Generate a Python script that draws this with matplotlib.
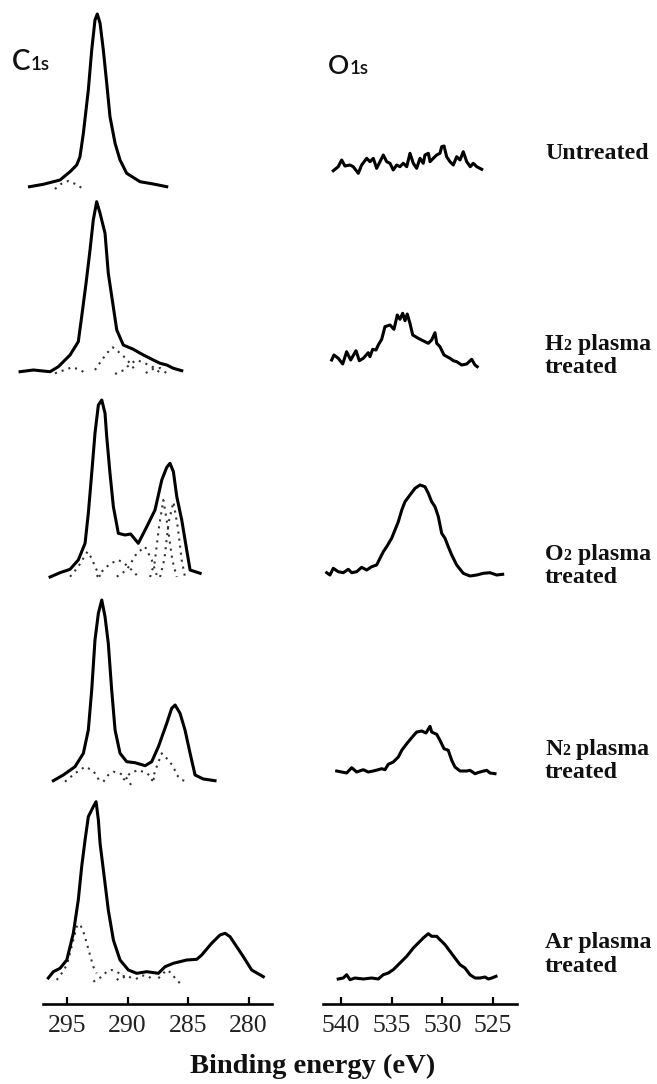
import matplotlib
matplotlib.use("Agg")
import matplotlib.pyplot as plt

# ---------------- data (binding energy in eV, intensity in a.u.) ----------------
# C1s spectra (solid) ------------------------------------------------------------
c1_E = [298.1, 296.96, 295.58, 294.75, 294.20, 293.93, 293.65, 293.43, 293.24, 292.96, 292.69,
        292.50, 292.27, 292.0, 291.72, 291.45, 291.03, 290.62, 290.07, 288.97, 287.87, 286.76]
c1_I = [0.3, 2.7, 7, 15.3, 22, 30.3, 53.7, 77, 97, 137, 167,
        173, 163.7, 137, 103.7, 70.3, 43.7, 27, 13.7, 5.3, 3, 0.3]

c2_E = [298.88, 297.79, 296.40, 295.72, 294.75, 294.07, 293.79, 293.43, 293.10, 292.83, 292.55,
        292.27, 291.86, 291.59, 291.22, 290.89, 290.35, 289.52, 288.69, 287.87, 287.31, 286.76,
        286.21, 285.52]
c2_I = [0.3, 2, 0.3, 5.3, 17, 30.3, 55.3, 88.7, 122, 152, 170.3,
        158.7, 138.7, 98.7, 68.7, 42, 27, 22.7, 17, 12, 8.7, 7,
        3.7, 1.3]

c3_E = [296.40, 295.58, 294.75, 294.07, 293.51, 293.24, 292.96, 292.69, 292.41, 292.13, 291.86,
        291.72, 291.45, 291.17, 290.76, 290.21, 289.74, 289.11, 288.41, 287.73, 287.17, 286.76,
        286.49, 286.21, 285.93, 285.52, 285.11, 284.83, 284.0]
c3_I = [0, 4.3, 7.7, 17, 33.7, 63.7, 103.7, 143.7, 172, 177, 163.7,
        140.3, 103.7, 70.3, 43.7, 42, 43, 33.7, 50.3, 67, 97, 109.7,
        113.7, 105.3, 80.3, 57, 27, 7, 3.7]

c4_E = [296.13, 295.31, 294.34, 293.65, 293.24, 292.96, 292.69, 292.41, 292.13, 291.86, 291.59,
        291.31, 291.03, 290.62, 290.07, 289.38, 288.55, 288.0, 287.45, 286.76, 286.35, 286.07,
        285.66, 285.25, 284.83, 284.42, 283.74, 282.77]
c4_I = [0.3, 6, 14.3, 27.7, 51, 91, 141, 167.7, 181, 164.3, 137.7,
        91, 51, 27.7, 19.3, 18.3, 15.3, 19.3, 34.3, 57.7, 72.7, 76,
        67.7, 51, 27.7, 6, 2, 0.3]

c5_E = [296.55, 296.13, 295.58, 295.02, 294.48, 294.07, 293.79, 293.51, 293.24, 292.83, 292.60,
        292.41, 292.27, 291.86, 291.59, 291.17, 290.62, 289.93, 289.24, 288.41, 287.45, 286.90,
        286.21, 285.11, 284.28, 283.87, 283.05, 282.36, 281.94, 281.53, 280.98, 280.43, 279.74,
        278.78]
c5_I = [0, 6.3, 9.7, 18, 44.7, 78, 111.3, 138, 161.3, 171.3, 176.3,
        158, 134.7, 94.7, 68, 38, 18, 8, 4.7, 6.3, 4.7, 11.3,
        14.7, 18, 18.7, 23, 34.7, 43, 44.7, 41.3, 31.3, 21.3, 8,
        1.3]

# C1s fitted components (dotted) -------------------------------------------------
c1_comp = [([296.0, 295.5, 294.9, 294.3, 293.65], [-2, 3, 6, 3, -2])]
c2_comp = [([296.0, 295.2, 294.6, 294.1, 293.5], [-1.3, 2, 4.7, 3, -0.7]),
           ([292.69, 292.41, 291.72, 291.22, 290.76, 290.29, 289.79, 289.38],
            [2, 7, 18.7, 24.7, 20.3, 15.3, 8.7, 2]),
           ([291.03, 290.29, 289.79, 289.24, 288.55, 287.87, 287.31],
            [-2, 2, 8, 12, 8.7, 4.7, -0.7]),
           ([288.5, 287.9, 287.3, 286.8], [-1, 3, 4, -1])]
c3_comp = [([294.75, 294.07, 293.65, 293.32, 292.96, 292.69, 292.27],
            [0.3, 10.3, 18.7, 25.3, 18.7, 10.3, 0.3]),
           ([292.55, 291.72, 291.26, 290.76, 290.35, 289.93, 289.11],
            [0.3, 10.3, 14.3, 17, 14.3, 10.3, 0.3]),
           ([290.89, 290.07, 289.24, 288.55, 288.0, 287.59],
            [0.3, 7, 23.7, 30.3, 17, 2]),
           ([288.14, 287.75, 287.4, 287.04, 286.7, 286.3, 285.93],
            [0, 15, 50, 77, 52, 17, 0]),
           ([287.31, 286.95, 286.6, 286.21, 285.85, 285.5, 285.25],
            [0, 18, 55, 75, 50, 15, 0])]
c4_comp = [([295.17, 294.34, 293.51, 292.96, 292.55, 292.27],
            [-0.7, 7.7, 14.3, 11, 6, -2.3]),
           ([292.0, 291.59, 291.17, 290.62, 290.07, 289.65],
            [-0.7, 6, 9.3, 7.7, 2.7, -5]),
           ([290.35, 289.79, 289.11, 288.41, 287.87, 287.59],
            [1, 7.7, 11, 7.7, 2.7, -2.3]),
           ([288.0, 287.6, 287.17, 286.63, 286.21, 285.93, 285.52, 284.98],
            [0, 14, 27.7, 21, 14.3, 6, 1, -0.7])]
c5_comp = [([295.85, 295.44, 295.02, 294.48, 294.20, 293.93, 293.65, 293.37, 293.10, 292.83, 292.55],
            [-2, 4.7, 13, 38, 51.3, 54, 46.3, 34.7, 23, 11.3, 4.7]),
           ([292.83, 292.13, 291.72, 291.31, 290.89, 290.48, 290.07],
            [-3.7, 1.3, 6.3, 8, 6.3, 3, -2]),
           ([290.9, 290.5, 290.1, 289.7], [-2, 1, 3, 0]),
           ([289.3, 288.8, 288.3, 287.8], [-1, 2.5, 2, -3]),
           ([287.45, 287.04, 286.76, 286.35, 286.07, 285.66],
            [-0.3, 4.7, 8, 4.7, -0.3, -5.3])]

# O1s spectra (solid) ------------------------------------------------------------
o1_E = [540.76, 540.27, 539.93, 539.61, 539.11, 538.79, 538.29, 537.96, 537.46, 537.14, 536.81,
        536.48, 536.15, 535.82, 535.49, 535.16, 534.84, 534.50, 534.18, 533.85, 533.51, 533.19,
        532.86, 532.53, 532.20, 531.88, 531.71, 531.38, 531.21, 530.89, 530.55, 530.23, 530.06,
        529.83, 529.57, 529.24, 528.91, 528.58, 528.25, 527.93, 527.59, 527.24, 526.94, 526.60,
        526.11]
o1_I = [1.3, 5.3, 12, 6, 7, 5.3, -1.3, 7, 13.7, 10.3, 13.7,
        3.7, 10.3, 17, 10.3, 8.7, 2, 7, 5.3, 8.7, 5.3, 18.7,
        8.7, 3.7, 13.7, 8.7, 17, 18.7, 10.3, 13.7, 17, 18.7, 25.3,
        26, 15.3, 10.3, 7, 15.3, 12, 20.3, 10.3, 5.3, 8.7, 5.3,
        2.7]

o2_E = [540.92, 540.69, 540.27, 539.83, 539.44, 539.04, 538.52, 538.19, 537.80, 537.31, 537.14,
        536.87, 536.54, 536.32, 535.98, 535.66, 535.16, 534.77, 534.44, 534.18, 533.91, 533.68,
        533.46, 533.19, 532.92, 532.37, 531.71, 531.38, 531.05, 530.72, 530.55, 530.23, 529.83,
        529.24, 528.91, 528.58, 528.08, 527.59, 527.10, 526.77, 526.55]
o2_I = [7, 12, 8.7, 3, 15.3, 7, 16.3, 6.3, 8.7, 14.3, 10.3,
        17.7, 17, 22, 27.7, 40.3, 42, 37.7, 52, 47.7, 53.7, 46.3,
        53, 43.7, 32, 28.7, 25.3, 23.7, 27, 34.3, 23.7, 20.3, 12,
        8.7, 6.3, 5.3, 2, 3, 7.7, 2, 0.3]

o3_E = [541.41, 541.09, 540.76, 540.27, 539.77, 539.28, 538.94, 538.45, 537.96, 537.46, 536.97,
        536.48, 536.15, 535.82, 535.49, 535.0, 534.67, 534.34, 534.0, 533.68, 533.19, 532.69,
        532.20, 531.71, 531.38, 531.05, 530.72, 530.39, 530.06, 529.73, 529.41, 529.07, 528.58,
        527.93, 527.27, 526.60, 525.95, 525.29, 524.63, 524.04]
o3_I = [2.3, 0, 6.7, 3.3, 2.3, 5.7, 2.3, 3.3, 7.7, 5, 8.3,
        10, 16.7, 23.3, 28.3, 36.7, 45, 53.3, 65, 73.3, 80, 86.7,
        90, 88.3, 81.7, 73.3, 68.3, 58.3, 41.7, 36.7, 28.3, 20, 10,
        1.7, -1, 0, 1.7, 2.3, 0, 0.7]

o4_E = [540.42, 539.93, 539.44, 538.94, 538.45, 537.80, 537.31, 536.81, 536.32, 535.98, 535.66,
        535.33, 534.84, 534.34, 534.0, 533.51, 533.02, 532.53, 532.03, 531.61, 531.21, 531.05,
        530.55, 530.23, 529.83, 529.41, 529.07, 528.75, 528.25, 527.59, 527.27, 526.77, 526.28,
        525.62, 525.29, 524.80]
o4_I = [2, 1, 0, 5.3, 1, 3.3, 1, 2, 3.3, 4.3, 3.3,
        8.7, 11, 16, 22.7, 29.3, 35.3, 41, 42, 40, 46.7, 41,
        38.7, 32.7, 24.3, 22.7, 12.7, 6, 2, 2, 2.7, -0.7, 1,
        2.7, 0, -0.7]

o5_E = [540.27, 539.77, 539.44, 539.11, 538.62, 537.80, 536.97, 536.32, 535.82, 535.33, 534.84,
        534.50, 534.01, 533.51, 532.86, 532.37, 531.88, 531.38, 531.05, 530.55, 530.23, 529.73,
        529.24, 528.75, 528.25, 527.76, 527.27, 526.77, 526.28, 525.78, 525.46, 525.12, 524.70]
o5_I = [0, 1, 4.3, -0.7, 1, 0, 1, 0, 4.3, 6, 9.3,
        12.7, 17.7, 22.7, 31, 36, 41, 45.3, 42.7, 42.7, 39.3, 34.3,
        27.7, 21, 14.3, 11, 4.3, 1, 1, 2, 0, 1, 2.7]

c_spectra = [(c1_E, c1_I), (c2_E, c2_I), (c3_E, c3_I), (c4_E, c4_I), (c5_E, c5_I)]
c_components = [c1_comp, c2_comp, c3_comp, c4_comp, c5_comp]
o_spectra = [(o1_E, o1_I), (o2_E, o2_I), (o3_E, o3_I), (o4_E, o4_I), (o5_E, o5_I)]

c_ticks = [295, 290, 285, 280]
o_ticks = [540, 535, 530, 525]

row_labels = [
    [[("Untreated", False)]],
    [[("H", False), ("2", True), (" plasma", False)], [("treated", False)]],
    [[("O", False), ("2", True), (" plasma", False)], [("treated", False)]],
    [[("N", False), ("2", True), (" plasma", False)], [("treated", False)]],
    [[("Ar plasma", False)], [("treated", False)]],
]
xlabel_text = "Binding energy (eV)"

# ---------------- layout (styling / positions) ----------------
W, H = 657, 1084
DPI = 100
fig = plt.figure(figsize=(W / DPI, H / DPI), dpi=DPI)

axis_y_px = 1004
c_offsets = [817, 632, 427, 223, 26]
o_offsets = [832, 637, 429, 231, 25]


def make_axes(x0_px, x1_px, xlim, bounds, ticks):
    ax = fig.add_axes([x0_px / W, (H - axis_y_px) / H, (x1_px - x0_px) / W, axis_y_px / H])
    ax.set_xlim(*xlim)
    ax.set_ylim(0, axis_y_px)
    for s in ["left", "right", "top"]:
        ax.spines[s].set_visible(False)
    ax.spines["bottom"].set_linewidth(1.9)
    ax.spines["bottom"].set_bounds(*bounds)
    ax.set_yticks([])
    ax.set_xticks(ticks)
    ax.set_xticklabels([str(t) for t in ticks])
    ax.tick_params(axis="x", direction="in", length=5, width=1.6, pad=8,
                   labelsize=18.5)
    for lab in ax.get_xticklabels():
        lab.set_family("Liberation Serif")
        lab.set_color("#222222")
    ax.patch.set_alpha(0)
    return ax


ax_c = make_axes(15, 280, (299.30, 277.40), (296.98, 278.06), c_ticks)
ax_o = make_axes(320, 520, (542.07, 522.33), (541.78, 522.63), o_ticks)

for (E, I), off, comps in zip(c_spectra, c_offsets, c_components):
    for cE, cI in comps:
        ax_c.plot(cE, [off + v for v in cI], color="#333333", lw=1.5,
                  ls=(0, (1, 2.4)), clip_on=False)
    ax_c.plot(E, [off + v for v in I], color="black", lw=2.2, clip_on=False,
              solid_joinstyle="round")

for (E, I), off in zip(o_spectra, o_offsets):
    ax_o.plot(E, [off + v for v in I], color="black", lw=2.2, clip_on=False,
              solid_joinstyle="round")

# ---------------- text ----------------
renderer = fig.canvas.get_renderer()


def runs_text(x_px, base_px, runs, fontsizes, **kw):
    x = x_px
    for (txt, small), fs in zip(runs, fontsizes):
        t = fig.text(x / W, 1 - base_px / H, txt, fontsize=fs, va="baseline",
                     ha="left", **kw)
        x += t.get_window_extent(renderer).width
    return x


serif_bold = dict(family=["Liberation Serif", "DejaVu Serif"], fontweight="bold",
                  color="#111111")
label_baselines = [[159], [350, 373], [560, 583], [755, 778], [948, 972]]
for lines, bases in zip(row_labels, label_baselines):
    for runs, b in zip(lines, bases):
        sizes = [11.5 if small else 17.2 for _, small in runs]
        runs_text(545, b, runs, sizes, **serif_bold)

sans = dict(family=["Lato", "DejaVu Sans"], color="#111111", fontweight="semibold")
runs_text(12, 70, [("C", False), ("1s", True)], [20, 13.5], **sans)
runs_text(328, 74, [("O", False), ("1s", True)], [19, 13.5], **sans)

fig.text(313 / W, 1 - 1073 / H, xlabel_text, fontsize=20.5, ha="center",
         va="baseline", **serif_bold)

fig.savefig("out.png", dpi=DPI)
